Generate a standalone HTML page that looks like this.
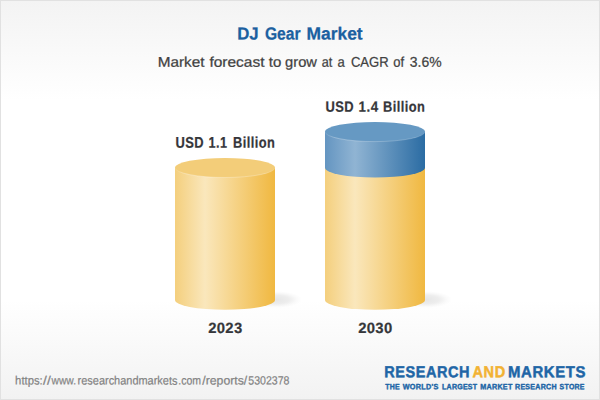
<!DOCTYPE html>
<html>
<head>
<meta charset="utf-8">
<title>DJ Gear Market</title>
<style>
  html, body { margin: 0; padding: 0; background: #fff; }
  body { width: 600px; height: 400px; overflow: hidden; font-family: "Liberation Sans", sans-serif; }
  svg { display: block; }
  text { font-family: "Liberation Sans", sans-serif; text-rendering: geometricPrecision; }
</style>
</head>
<body>
<svg width="600" height="400" viewBox="0 0 600 400">
  <defs>
    <linearGradient id="bg" x1="0" y1="0" x2="0" y2="1">
      <stop offset="0" stop-color="#f3f3f3"/>
      <stop offset="0.25" stop-color="#ffffff"/>
      <stop offset="0.75" stop-color="#ffffff"/>
      <stop offset="1" stop-color="#f2f2f2"/>
    </linearGradient>
    <linearGradient id="gy" x1="0" y1="0" x2="1" y2="0">
      <stop offset="0" stop-color="#f4cf7d"/>
      <stop offset="0.3" stop-color="#fae7bc"/>
      <stop offset="1" stop-color="#f0b840"/>
    </linearGradient>
    <linearGradient id="gb" x1="0" y1="0" x2="1" y2="0">
      <stop offset="0" stop-color="#6495c1"/>
      <stop offset="0.3" stop-color="#90b4d3"/>
      <stop offset="1" stop-color="#2b6ca3"/>
    </linearGradient>
    <linearGradient id="rimy" gradientUnits="userSpaceOnUse" x1="175" y1="0" x2="275" y2="0">
      <stop offset="0" stop-color="#fff" stop-opacity="0.08"/>
      <stop offset="0.1" stop-color="#fff" stop-opacity="0.35"/>
      <stop offset="0.4" stop-color="#fff" stop-opacity="0.28"/>
      <stop offset="0.9" stop-color="#fff" stop-opacity="0.25"/>
      <stop offset="1" stop-color="#fff" stop-opacity="0.08"/>
    </linearGradient>
    <linearGradient id="rimb" gradientUnits="userSpaceOnUse" x1="325" y1="0" x2="425" y2="0">
      <stop offset="0" stop-color="#fff" stop-opacity="0.08"/>
      <stop offset="0.1" stop-color="#fff" stop-opacity="0.3"/>
      <stop offset="0.4" stop-color="#fff" stop-opacity="0.22"/>
      <stop offset="0.9" stop-color="#fff" stop-opacity="0.2"/>
      <stop offset="1" stop-color="#fff" stop-opacity="0.06"/>
    </linearGradient>
    <radialGradient id="sh" cx="0.5" cy="0.5" r="0.5">
      <stop offset="0" stop-color="#000" stop-opacity="0.10"/>
      <stop offset="0.5" stop-color="#000" stop-opacity="0.07"/>
      <stop offset="0.8" stop-color="#000" stop-opacity="0.02"/>
      <stop offset="1" stop-color="#000" stop-opacity="0"/>
    </radialGradient>
  </defs>
  <rect x="0" y="0" width="600" height="400" fill="url(#bg)"/>
  <rect x="0.5" y="0.5" width="599" height="399" fill="none" stroke="#e1e1e1" stroke-width="1"/>

  <!-- shadows -->
  <ellipse cx="276" cy="299.5" rx="26" ry="8.5" fill="url(#sh)"/>
  <ellipse cx="426" cy="299.5" rx="26" ry="8.5" fill="url(#sh)"/>

  <!-- cylinder 1 -->
  <path d="M175 167.7 L175 300 A50 9.8 0 0 0 275 300 L275 167.7 Z" fill="url(#gy)"/>
  <ellipse cx="225" cy="167.7" rx="50" ry="9.8" fill="#f3cd79"/>
  <path d="M175 167.7 A50 9.8 0 0 0 275 167.7" fill="none" stroke="url(#rimy)" stroke-width="1"/>

  <!-- cylinder 2 -->
  <path d="M325 167.7 L325 300 A50 9.8 0 0 0 425 300 L425 167.7 Z" fill="url(#gy)"/>
  <path d="M325 131.8 L325 167.7 A50 9.8 0 0 0 425 167.7 L425 131.8 Z" fill="url(#gb)"/>
  <ellipse cx="375" cy="131.8" rx="50" ry="9.8" fill="#6699c3"/>
  <path d="M325 131.8 A50 9.8 0 0 0 425 131.8" fill="none" stroke="url(#rimb)" stroke-width="1"/>

  <!-- text -->
  <text transform="translate(237.14 39.40) rotate(0.06) scale(0.9863 1.0287)" font-size="17" font-weight="bold" fill="#1b60a0" stroke="#1b60a0" stroke-width="0.25" stroke-linejoin="round">DJ</text>
  <text transform="translate(264.88 39.40) rotate(0.06) scale(0.9200 1.0287)" font-size="17" font-weight="bold" fill="#1b60a0" stroke="#1b60a0" stroke-width="0.25" stroke-linejoin="round">Gear</text>
  <text transform="translate(306.60 39.40) rotate(0.06) scale(1.0223 1.0287)" font-size="17" font-weight="bold" fill="#1b60a0" stroke="#1b60a0" stroke-width="0.25" stroke-linejoin="round">Market</text>
  <text transform="translate(157.73 66.79) rotate(0.06) scale(1.0920 1.0101)" font-size="14" font-weight="normal" fill="#414141" stroke="#414141" stroke-width="0.25" stroke-linejoin="round">Market</text>
  <text transform="translate(209.43 66.79) rotate(0.06) scale(1.1050 1.0101)" font-size="14" font-weight="normal" fill="#414141" stroke="#414141" stroke-width="0.25" stroke-linejoin="round">forecast</text>
  <text transform="translate(268.82 66.79) rotate(0.06) scale(1.0724 1.0101)" font-size="14" font-weight="normal" fill="#414141" stroke="#414141" stroke-width="0.25" stroke-linejoin="round">to</text>
  <text transform="translate(285.12 66.79) rotate(0.06) scale(1.0485 1.0101)" font-size="14" font-weight="normal" fill="#414141" stroke="#414141" stroke-width="0.25" stroke-linejoin="round">grow</text>
  <text transform="translate(321.73 66.79) rotate(0.06) scale(0.9036 1.0101)" font-size="14" font-weight="normal" fill="#414141" stroke="#414141" stroke-width="0.25" stroke-linejoin="round">at</text>
  <text transform="translate(337.43 66.79) rotate(0.06) scale(0.9312 1.0101)" font-size="14" font-weight="normal" fill="#414141" stroke="#414141" stroke-width="0.25" stroke-linejoin="round">a</text>
  <text transform="translate(350.93 66.79) rotate(0.06) scale(0.9334 1.0101)" font-size="14" font-weight="normal" fill="#414141" stroke="#414141" stroke-width="0.25" stroke-linejoin="round">CAGR</text>
  <text transform="translate(393.32 66.79) rotate(0.06) scale(0.9291 1.0101)" font-size="14" font-weight="normal" fill="#414141" stroke="#414141" stroke-width="0.25" stroke-linejoin="round">of</text>
  <text transform="translate(409.82 66.79) rotate(0.06) scale(0.9964 1.0101)" font-size="14" font-weight="normal" fill="#414141" stroke="#414141" stroke-width="0.25" stroke-linejoin="round">3.6%</text>
  <text transform="translate(175.41 147.81) rotate(0.06) scale(0.8612 1.0326)" font-size="15" font-weight="bold" letter-spacing="0.5" fill="#35363a" stroke="#35363a" stroke-width="0.22" stroke-linejoin="round">USD</text>
  <text transform="translate(208.61 147.81) rotate(0.06) scale(0.8452 1.0326)" font-size="15" font-weight="bold" letter-spacing="0.5" fill="#35363a" stroke="#35363a" stroke-width="0.22" stroke-linejoin="round">1.1</text>
  <text transform="translate(233.00 147.81) rotate(0.06) scale(0.8556 1.0326)" font-size="15" font-weight="bold" letter-spacing="0.5" fill="#35363a" stroke="#35363a" stroke-width="0.22" stroke-linejoin="round">Billion</text>
  <text transform="translate(325.41 111.81) rotate(0.06) scale(0.8612 0.9965)" font-size="15" font-weight="bold" letter-spacing="0.5" fill="#35363a" stroke="#35363a" stroke-width="0.22" stroke-linejoin="round">USD</text>
  <text transform="translate(358.61 111.81) rotate(0.06) scale(0.8898 0.9965)" font-size="15" font-weight="bold" letter-spacing="0.5" fill="#35363a" stroke="#35363a" stroke-width="0.22" stroke-linejoin="round">1.4</text>
  <text transform="translate(383.00 111.81) rotate(0.06) scale(0.8556 0.9965)" font-size="15" font-weight="bold" letter-spacing="0.5" fill="#35363a" stroke="#35363a" stroke-width="0.22" stroke-linejoin="round">Billion</text>
  <text transform="translate(208.20 332.90) rotate(0.06) scale(0.9904 0.9895)" font-size="15" font-weight="bold" letter-spacing="0.3" fill="#35363a" stroke="#35363a" stroke-width="0.2" stroke-linejoin="round">2023</text>
  <text transform="translate(358.20 332.93) rotate(0.06) scale(0.9904 0.9877)" font-size="15" font-weight="bold" letter-spacing="0.3" fill="#35363a" stroke="#35363a" stroke-width="0.2" stroke-linejoin="round">2030</text>
  <text transform="translate(15.10 384.53) rotate(0.06) scale(0.9409 1.0001)" font-size="12" font-weight="normal" fill="#828282" stroke="#828282" stroke-width="0.2" stroke-linejoin="round">https:</text>
  <text transform="translate(43.10 384.53) rotate(0.06) scale(1.1454 1.0001)" font-size="12" font-weight="normal" fill="#828282" stroke="#828282" stroke-width="0.2" stroke-linejoin="round">//</text>
  <text transform="translate(51.55 384.53) rotate(0.06) scale(0.8522 1.0001)" font-size="12" font-weight="normal" fill="#828282" stroke="#828282" stroke-width="0.2" stroke-linejoin="round">www.</text>
  <text transform="translate(77.60 384.53) rotate(0.06) scale(0.9124 1.0001)" font-size="12" font-weight="normal" fill="#828282" stroke="#828282" stroke-width="0.2" stroke-linejoin="round">researchandmarkets</text>
  <text transform="translate(178.32 384.53) rotate(0.06) scale(0.8757 1.0001)" font-size="12" font-weight="normal" fill="#828282" stroke="#828282" stroke-width="0.2" stroke-linejoin="round">.com</text>
  <text transform="translate(202.30 384.53) rotate(0.06) scale(1.0206 1.0001)" font-size="12" font-weight="normal" fill="#828282" stroke="#828282" stroke-width="0.2" stroke-linejoin="round">/reports/</text>
  <text transform="translate(248.30 384.53) rotate(0.06) scale(0.8800 1.0001)" font-size="12" font-weight="normal" fill="#828282" stroke="#828282" stroke-width="0.2" stroke-linejoin="round">5302378</text>
  <text transform="translate(384.26 377.13) rotate(0.06) scale(0.9654 1.0588)" font-size="15" font-weight="bold" letter-spacing="0.6" fill="#2065a6" stroke="#2065a6" stroke-width="0.45" stroke-linejoin="round">RESEARCH</text>
  <text transform="translate(472.43 377.13) rotate(0.06) scale(0.9730 1.0588)" font-size="15" font-weight="bold" letter-spacing="0.6" fill="#f2b233" stroke="#f2b233" stroke-width="0.45" stroke-linejoin="round">AND</text>
  <text transform="translate(508.03 377.13) rotate(0.06) scale(0.9947 1.0588)" font-size="15" font-weight="bold" letter-spacing="0.6" fill="#2065a6" stroke="#2065a6" stroke-width="0.45" stroke-linejoin="round">MARKETS</text>
  <text transform="translate(385.21 389.25) rotate(0.06) scale(0.8677 0.9650)" font-size="8" font-weight="bold" letter-spacing="0.3" fill="#2065a6" stroke="#2065a6" stroke-width="0.42" stroke-linejoin="round">THE</text>
  <text transform="translate(402.71 389.25) rotate(0.06) scale(0.9089 0.9650)" font-size="8" font-weight="bold" letter-spacing="0.3" fill="#2065a6" stroke="#2065a6" stroke-width="0.42" stroke-linejoin="round">WORLD&#39;S</text>
  <text transform="translate(442.01 389.25) rotate(0.06) scale(0.8765 0.9650)" font-size="8" font-weight="bold" letter-spacing="0.3" fill="#2065a6" stroke="#2065a6" stroke-width="0.42" stroke-linejoin="round">LARGEST</text>
  <text transform="translate(480.21 389.25) rotate(0.06) scale(0.8981 0.9650)" font-size="8" font-weight="bold" letter-spacing="0.3" fill="#2065a6" stroke="#2065a6" stroke-width="0.42" stroke-linejoin="round">MARKET</text>
  <text transform="translate(515.01 389.25) rotate(0.06) scale(0.8848 0.9650)" font-size="8" font-weight="bold" letter-spacing="0.3" fill="#2065a6" stroke="#2065a6" stroke-width="0.42" stroke-linejoin="round">RESEARCH</text>
  <text transform="translate(559.61 389.25) rotate(0.06) scale(0.8703 0.9650)" font-size="8" font-weight="bold" letter-spacing="0.3" fill="#2065a6" stroke="#2065a6" stroke-width="0.42" stroke-linejoin="round">STORE</text>
</svg>
</body>
</html>
